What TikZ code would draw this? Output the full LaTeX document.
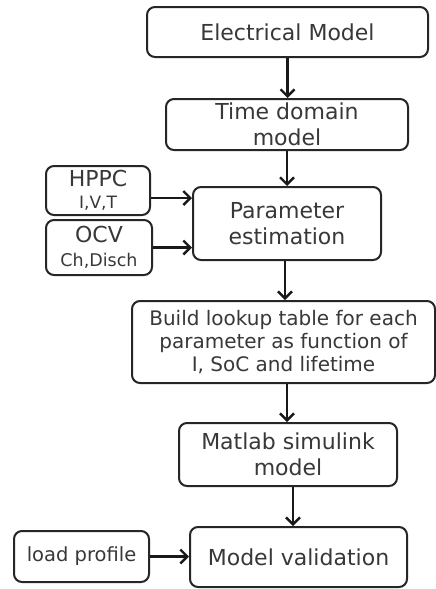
\documentclass[tikz,border=0pt]{standalone}
\usepackage{fontspec}
\setmainfont{DejaVu Sans}
\usetikzlibrary{arrows.meta,calc}
\begin{document}
\begin{tikzpicture}[x=1pt,y=-1pt,
 box/.style={draw=black!85, line width=2pt, rounded corners=8pt, inner sep=0pt, align=center, text=black!78, font=\fontsize{22}{25.5}\selectfont},
 arr/.style={draw=black!90, line width=2.6pt, -{Straight Barb[length=7pt,width=14pt,line width=2.4pt]}}]
\useasboundingbox[fill=white] (0,0) rectangle (436,589);
\node[box, minimum width=281pt, minimum height=50pt] (E) at (287.5,32) {Electrical Model};
\node[box, minimum width=242pt, minimum height=51pt] (T) at (287,124.5) {Time domain\\model};
\node[box, minimum width=188pt, minimum height=73pt] (P) at (287,223.5) {Parameter\\estimation};
\node[box, minimum width=104pt, minimum height=49pt] (H) at (98,190.5) {HPPC\\[-3pt]{\fontsize{17}{18}\selectfont I,V,T}};
\node[box, minimum width=106pt, minimum height=55pt] (O) at (99,247.5) {OCV\\[-2pt]{\fontsize{17.5}{19}\selectfont Ch,Disch}};
\node[box, minimum width=303pt, minimum height=82pt, font=\fontsize{20}{23}\selectfont] (B) at (283.5,342) {Build lookup table for each\\parameter as function of\\I, SoC and lifetime};
\node[box, minimum width=218pt, minimum height=63pt] (M) at (288,454.5) {Matlab simulink\\model};
\node[box, minimum width=217pt, minimum height=60pt] (V) at (298.5,557) {Model validation};
\node[box, minimum width=135pt, minimum height=51pt, font=\fontsize{19.5}{22}\selectfont] (L) at (81.5,556.5) {load profile};
\draw[arr] (E.south) -- (E.south |- T.north);
\draw[arr] (T.south) -- (T.south |- P.north);
\draw[arr] ([xshift=-2pt]P.south) -- ([xshift=-2pt]P.south |- B.north);
\draw[arr] ([xshift=3.5pt]B.south) -- ([xshift=3.5pt]B.south |- M.north);
\draw[arr] ([xshift=5pt]M.south) -- ([xshift=5pt]M.south |- V.north);
\draw[arr] ([yshift=-7.5pt]H.east) -- ([yshift=-7.5pt]H.east -| P.west);
\draw[arr] (O.east) -- (O.east -| P.west);
\draw[arr] (L.east) -- (L.east -| V.west);
\end{tikzpicture}
\end{document}
